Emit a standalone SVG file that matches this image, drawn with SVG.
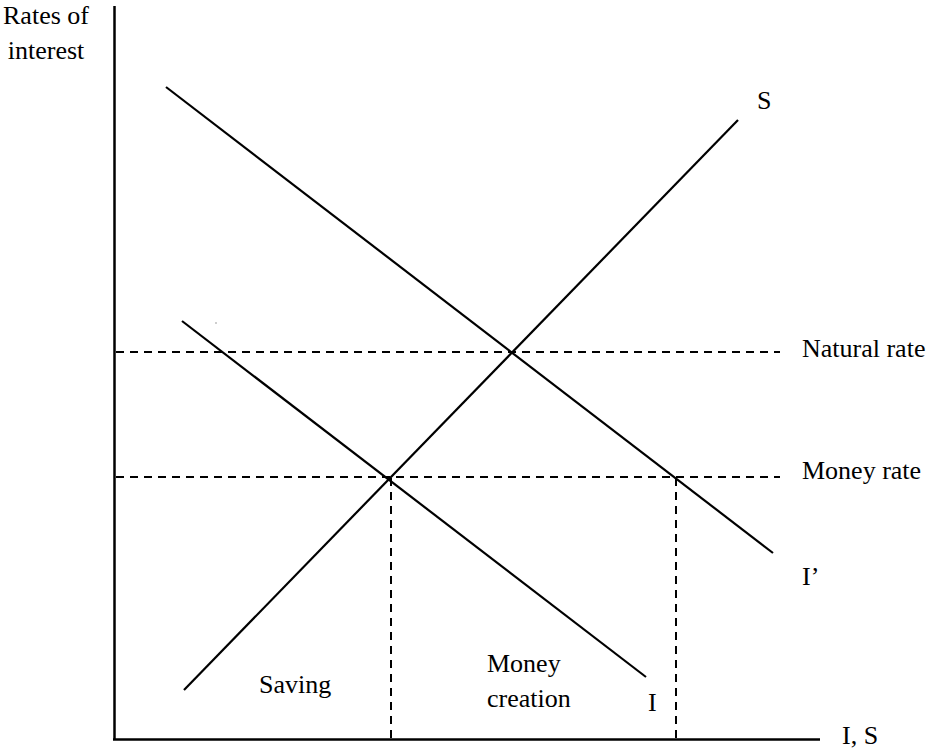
<svg xmlns="http://www.w3.org/2000/svg" width="928" height="750" viewBox="0 0 928 750">
<style>
.t{font-family:"Liberation Serif","Times New Roman",serif;font-size:26px;fill:#000}
.ax{stroke:#000;stroke-width:2.5;fill:none}
.ln{stroke:#000;stroke-width:2.2;fill:none;stroke-linecap:butt}
.ds{stroke:#000;stroke-width:2;fill:none;stroke-dasharray:8,6}
</style>
<rect width="928" height="750" fill="#fff"/>
<g id="axes">
<line class="ax" x1="114.5" y1="6" x2="114.5" y2="740"/>
<line class="ax" x1="113" y1="739.5" x2="820" y2="739.5"/>
<text class="t" x="46" y="24" text-anchor="middle">Rates of</text>
<text class="t" x="46" y="59" text-anchor="middle">interest</text>
<text class="t" x="842" y="744">I, S</text>
</g>
<g id="connectors">
<line class="ln" x1="184" y1="690" x2="738" y2="120"/>
<line class="ln" x1="166" y1="87" x2="773" y2="553"/>
<line class="ln" x1="182" y1="321" x2="646" y2="677"/>
<line class="ds" x1="116" y1="352" x2="780" y2="352"/>
<line class="ds" x1="116" y1="477" x2="780" y2="477"/>
<line class="ds" x1="391" y1="478" x2="391" y2="738"/>
<line class="ds" x1="676" y1="478" x2="676" y2="738"/>
<circle cx="216" cy="323" r="0.7" fill="#777"/>
</g>
<g id="S"><text class="t" x="757" y="109">S</text></g>
<g id="Iprime"><text class="t" x="802" y="585">I’</text></g>
<g id="I"><text class="t" x="648" y="711">I</text></g>
<g id="natural"><text class="t" x="802" y="357">Natural rate</text></g>
<g id="money"><text class="t" x="802" y="479">Money rate</text></g>
<g id="saving"><text class="t" x="259" y="693">Saving</text></g>
<g id="creation"><text class="t" x="487" y="672">Money</text><text class="t" x="487" y="707">creation</text></g>
</svg>
